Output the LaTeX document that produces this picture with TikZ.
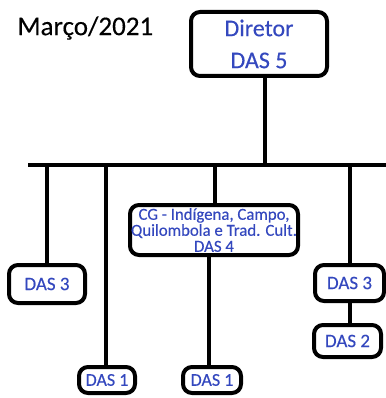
\documentclass[tikz,border=0pt]{standalone}
\usepackage{fontspec}
\setmainfont{Carlito}[FakeBold=0.35]
\definecolor{dasblue}{RGB}{52,72,190}

\begin{document}
\begin{tikzpicture}[x=1pt,y=-1pt,
  box/.style={draw,line width=4pt,rounded corners=9pt,text=dasblue,
    inner sep=0pt,align=center},
  wire/.style={line width=4pt}]

  \useasboundingbox (0,0) rectangle (385,398);

  % Date
  \node[anchor=west,font=\fontsize{27}{30}\selectfont] (date) at (14,28) {Março/2021};

  % Director
  \node[box,minimum width=136pt,minimum height=64pt,
    font=\fontsize{24}{32}\selectfont] (dir) at (259,44) {Diretor\\DAS 5};

  % Bar
  \coordinate (barL) at (28,165);
  \coordinate (barR) at (386,165);
  \coordinate (barD) at (265,165);
  \draw[wire] (barL) -- (barR);
  \draw[wire] (dir.south -| barD) -- (barD);

  % Drops
  \coordinate (d1) at (47,165);
  \coordinate (d2) at (106,165);
  \coordinate (d3) at (215,165);
  \coordinate (d4) at (350,165);

  % Units
  \node[box,minimum width=76pt,minimum height=38pt,
    font=\fontsize{19}{20}\selectfont] (das3l) at (47,284) {DAS 3};
  \node[box,minimum width=168pt,minimum height=50pt,
    font=\fontsize{16.8}{16}\selectfont] (cg) at (214,230)
    {CG - Indígena, Campo,\\Quilombola e Trad. Cult.\\DAS 4};
  \node[box,minimum width=69pt,minimum height=36pt,
    font=\fontsize{19}{20}\selectfont] (das3r) at (349.5,283) {DAS 3};
  \node[box,minimum width=67pt,minimum height=32pt,
    font=\fontsize{19}{20}\selectfont] (das2) at (347.5,341) {DAS 2};
  \node[box,minimum width=56pt,minimum height=26pt,
    font=\fontsize{18}{20}\selectfont] (das1l) at (107,380) {DAS 1};
  \node[box,minimum width=58pt,minimum height=26pt,
    font=\fontsize{18}{20}\selectfont] (das1m) at (212,380) {DAS 1};

  \draw[wire] (d1) -- (d1 |- das3l.north);
  \draw[wire] (d2) -- (d2 |- das1l.north);
  \draw[wire] (d3) -- (d3 |- cg.north);
  \draw[wire] (d4) -- (d4 |- das3r.north);
  \draw[wire] ([xshift=-5pt]cg.south) -- ([xshift=-3pt]das1m.north);
  \draw[wire] (das3r.south) -- (das3r.south |- das2.north);

\end{tikzpicture}
\end{document}
